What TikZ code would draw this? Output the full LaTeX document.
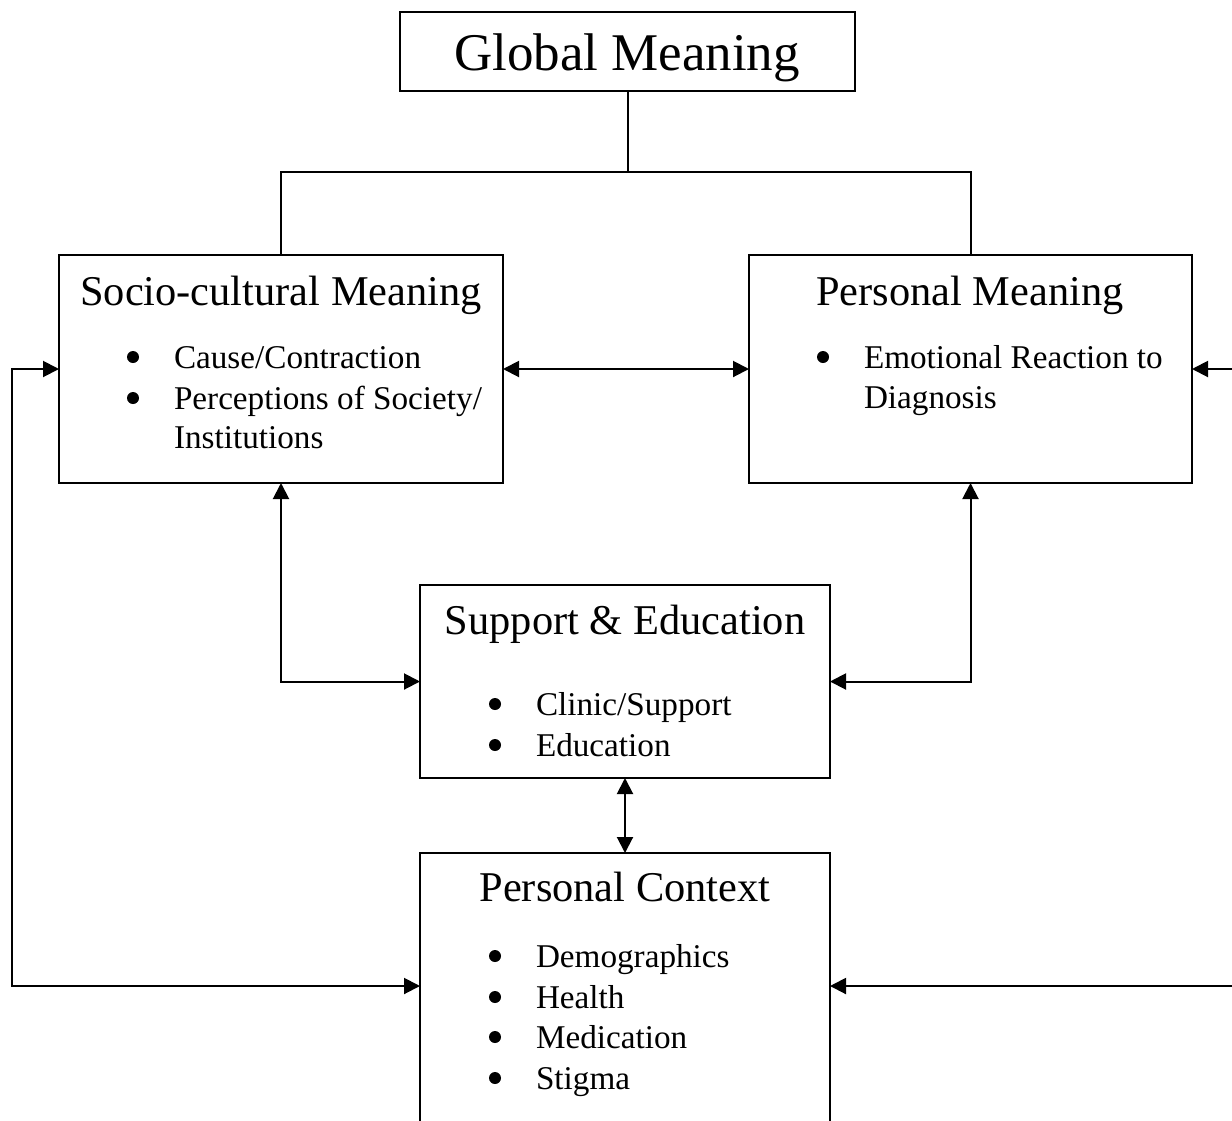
\documentclass[tikz,border=0pt]{standalone}
\usepackage{fontspec}
\setmainfont{Liberation Serif}
\usetikzlibrary{arrows.meta}
\newcommand\ftitle{\fontsize{53}{60}\selectfont}
\newcommand\fhead{\fontsize{42.4}{48}\selectfont}
\newcommand\fbody{\fontsize{33.2}{40}\selectfont}
\begin{document}
\begin{tikzpicture}[x=1pt,y=-1pt,line width=2pt,line join=miter,
  box/.style={draw,rectangle,anchor=north west,inner sep=0pt,outer sep=0pt},
  ttl/.style={anchor=base,font=\ftitle,inner sep=0pt},
  hd/.style={anchor=base,font=\fhead,inner sep=0pt},
  bt/.style={anchor=base west,font=\fbody,inner sep=0pt},
  bul/.style={circle,fill,inner sep=0pt,minimum size=12pt,draw=none},
  arr/.style={{Triangle[length=16pt,width=16pt]}-{Triangle[length=16pt,width=16pt]}}]
\useasboundingbox (0,0) rectangle (1232,1120);
\clip (0,0) rectangle (1232,1120);
\fill[white] (0,0) rectangle (1232,1120);
% boxes
\node[box,minimum width=455pt,minimum height=79pt] (gm) at (400,12) {};
\node[box,minimum width=444pt,minimum height=228pt] (soc) at (59,255) {};
\node[box,minimum width=443pt,minimum height=228pt] (pm) at (749,255) {};
\node[box,minimum width=410pt,minimum height=193pt] (se) at (420,585) {};
\node[box,minimum width=410pt,minimum height=300pt] (pc) at (420,853) {};
% texts
\node[ttl] (gmt) at (627,70) {Global Meaning};
\node[hd] (soct) at (281,305) {Socio-cultural Meaning};
\node[hd] (pmt) at (970,305) {Personal Meaning};
\node[hd] (set) at (625,634) {Support \& Education};
\node[hd] (pct) at (625,901) {Personal Context};
% socio bullets
\node[bul] (b1) at (133,357) {};
\node[bt] (s1) at (173,368) {Cause/Contraction};
\node[bul] (b2) at (133,398) {};
\node[bt] (s2) at (173,409) {Perceptions of Society/};
\node[bt] (s3) at (173,448) {Institutions};
% personal meaning bullets
\node[bul] (b3) at (823,357) {};
\node[bt] (p1) at (863,368) {Emotional Reaction to};
\node[bt] (p2) at (863,408) {Diagnosis};
% support bullets
\node[bul] (b4) at (495,704) {};
\node[bt] (e1) at (535,715) {Clinic/Support};
\node[bul] (b5) at (495,745) {};
\node[bt] (e2) at (535,756) {Education};
% context bullets
\node[bul] (b6) at (495,956) {};
\node[bt] (c1) at (535,967) {Demographics};
\node[bul] (b7) at (495,997) {};
\node[bt] (c2) at (535,1008) {Health};
\node[bul] (b8) at (495,1037) {};
\node[bt] (c3) at (535,1048) {Medication};
\node[bul] (b9) at (495,1078) {};
\node[bt] (c4) at (535,1089) {Stigma};
% connectors
\coordinate (j) at (gm.south |- 0,172);
\draw (gm.south) -- (j);
\draw (soc.north) |- (j) -| (pm.north);
\draw[arr] (soc.east) -- (pm.west);
\coordinate (lx) at (12,0);
\coordinate (rx) at (1250,0);
\coordinate (ly) at (0,986);
\coordinate (lt) at (soc.west -| lx);
\coordinate (lb) at (ly -| lx);
\coordinate (rt) at (pm.east -| rx);
\coordinate (rb) at (ly -| rx);
\draw[arr] (soc.west) -- (lt) -- (lb) -- (lb -| pc.west);
\draw[arr] (pm.east) -- (rt) -- (rb) -- (rb -| pc.east);
\draw[arr] (soc.south) |- (se.west);
\draw[arr] (pm.south) |- (se.east);
\draw[arr] (se.south) -- (pc.north);
\end{tikzpicture}
\end{document}
